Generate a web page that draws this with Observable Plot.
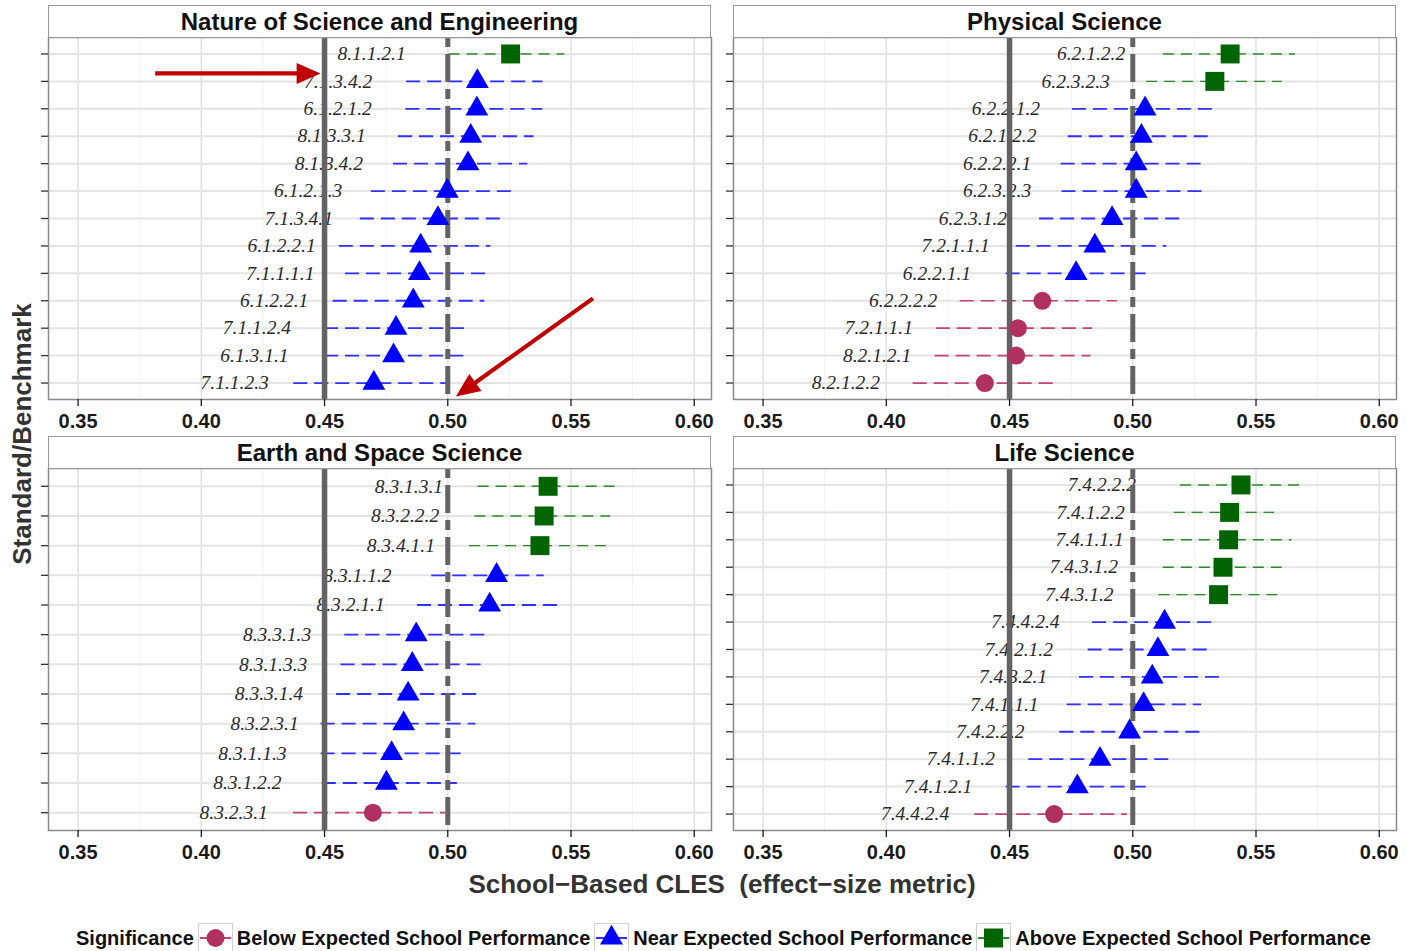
<!DOCTYPE html>
<html>
<head>
<meta charset="utf-8">
<script src="https://cdn.jsdelivr.net/npm/d3@7"></script>
<script src="https://cdn.jsdelivr.net/npm/@observablehq/plot@0.6"></script>
<style>
  body { margin: 0; background: #fff; font-family: "Liberation Sans", Arial, sans-serif; }
  #root { position: relative; width: 1407px; height: 951px; overflow: hidden; background: #fff; }
  .strip { position: absolute; box-sizing: border-box; border: 1.5px solid #9a9a9a; background: #fff;
           text-align: center; font-weight: bold; font-size: 24px; line-height: 32px; color: #111; }
  .plotbox { position: absolute; }
  .xtitle { position: absolute; left: 722px; top: 884px; transform: translate(-50%, -50%);
            font-size: 26px; font-weight: bold; color: #333; white-space: pre; }
  .ytitle { position: absolute; left: 22px; top: 434px; transform: translate(-50%, -50%) rotate(-90deg);
            font-size: 26px; font-weight: bold; color: #333; white-space: nowrap; }
  .legend { position: absolute; left: 76px; top: 923px; height: 30px; display: flex; align-items: center;
            font-size: 20px; font-weight: bold; color: #111; white-space: nowrap; }
  .legend svg { margin-left: 4px; flex: none; }
  .legend span.lab { margin-left: 4px; }
</style>
</head>
<body>
<div id="root"></div>
<script>
// ---------------- data ----------------
const panelTitles = ["Nature of Science and Engineering", "Physical Science", "Earth and Space Science", "Life Science"];

const sigLevels = ["below", "near", "above"];
const sigNames = ["Below Expected School Performance", "Near Expected School Performance", "Above Expected School Performance"];

const xTicks = [0.35, 0.40, 0.45, 0.50, 0.55, 0.60];
const refLines = [0.45, 0.50];

// Nature of Science and Engineering
const nseLabels = ["8.1.1.2.1", "7.1.3.4.2", "6.1.2.1.2", "8.1.3.3.1", "8.1.3.4.2", "6.1.2.1.3", "7.1.3.4.1", "6.1.2.2.1", "7.1.1.1.1", "6.1.2.2.1", "7.1.1.2.4", "6.1.3.1.1", "7.1.1.2.3"];
const nseEst = [0.5255, 0.5120, 0.5118, 0.5093, 0.5082, 0.4998, 0.4960, 0.4890, 0.4885, 0.4860, 0.4790, 0.4780, 0.4700];
const nseLo  = [0.5005, 0.4833, 0.4830, 0.4800, 0.4780, 0.4690, 0.4645, 0.4560, 0.4585, 0.4535, 0.4500, 0.4500, 0.4375];
const nseHi  = [0.5475, 0.5386, 0.5386, 0.5350, 0.5325, 0.5267, 0.5225, 0.5175, 0.5167, 0.5150, 0.5085, 0.5065, 0.5010];
const nseSig = ["above", "near", "near", "near", "near", "near", "near", "near", "near", "near", "near", "near", "near"];

// Physical Science
const psLabels = ["6.2.1.2.2", "6.2.3.2.3", "6.2.2.1.2", "6.2.1.2.2", "6.2.2.2.1", "6.2.3.2.3", "6.2.3.1.2", "7.2.1.1.1", "6.2.2.1.1", "6.2.2.2.2", "7.2.1.1.1", "8.2.1.2.1", "8.2.1.2.2"];
const psEst = [0.5395, 0.5333, 0.5050, 0.5035, 0.5014, 0.5014, 0.4916, 0.4846, 0.4770, 0.4633, 0.4534, 0.4527, 0.4400];
const psLo  = [0.5124, 0.5056, 0.4755, 0.4738, 0.4709, 0.4713, 0.4622, 0.4527, 0.4486, 0.4300, 0.4203, 0.4198, 0.4109];
const psHi  = [0.5660, 0.5607, 0.5327, 0.5306, 0.5292, 0.5292, 0.5203, 0.5138, 0.5062, 0.4938, 0.4837, 0.4831, 0.4690];
const psSig = ["above", "above", "near", "near", "near", "near", "near", "near", "near", "below", "below", "below", "below"];

// Earth and Space Science
const essLabels = ["8.3.1.3.1", "8.3.2.2.2", "8.3.4.1.1", "8.3.1.1.2", "8.3.2.1.1", "8.3.3.1.3", "8.3.1.3.3", "8.3.3.1.4", "8.3.2.3.1", "8.3.1.1.3", "8.3.1.2.2", "8.3.2.3.1"];
const essEst = [0.5407, 0.5391, 0.5374, 0.5198, 0.5170, 0.4872, 0.4856, 0.4839, 0.4821, 0.4772, 0.4751, 0.4696];
const essLo  = [0.5123, 0.5110, 0.5088, 0.4935, 0.4877, 0.4582, 0.4567, 0.4549, 0.4486, 0.4486, 0.4491, 0.4374];
const essHi  = [0.5698, 0.5661, 0.5653, 0.5391, 0.5456, 0.5158, 0.5149, 0.5132, 0.5114, 0.5061, 0.5039, 0.4991];
const essSig = ["above", "above", "above", "near", "near", "near", "near", "near", "near", "near", "near", "below"];

// Life Science
const lsLabels = ["7.4.2.2.2", "7.4.1.2.2", "7.4.1.1.1", "7.4.3.1.2", "7.4.3.1.2", "7.4.4.2.4", "7.4.2.1.2", "7.4.3.2.1", "7.4.1.1.1", "7.4.2.2.2", "7.4.1.1.2", "7.4.1.2.1", "7.4.4.2.4"];
const lsEst = [0.5439, 0.5393, 0.5389, 0.5366, 0.5348, 0.5129, 0.5102, 0.5079, 0.5044, 0.4987, 0.4867, 0.4775, 0.4681];
const lsLo  = [0.5194, 0.5168, 0.5124, 0.5124, 0.5106, 0.4837, 0.4819, 0.4784, 0.4734, 0.4704, 0.4578, 0.4486, 0.4359];
const lsHi  = [0.5685, 0.5575, 0.5646, 0.5616, 0.5598, 0.5324, 0.5310, 0.5359, 0.5279, 0.5279, 0.5166, 0.5062, 0.4978];
const lsSig = ["above", "above", "above", "above", "above", "near", "near", "near", "near", "near", "near", "near", "below"];

// annotation arrows in the first panel (data units: x value, y row index)
const arrowX1 = [0.3815, 0.5591];
const arrowY1 = [1.73, 9.93];
const arrowX2 = [0.4486, 0.5035];
const arrowY2 = [1.73, 13.51];

// ---------------- styles ----------------
const sigColors = ["#b03060", "#0000ff", "#006400"];
const barColors = ["#c3456f", "#3030ff", "#2b892b"];
const sigSymbols = ["circle", "triangle", "square"];
const sigR = [9, 8.5, 10.7];
const barDash = ["14,7", "14,7", "11,7"];
const barWidth = [1.7, 1.8, 1.4];
const xDomain = [0.338, 0.607];
const refColor = "#636363";

const panelW = 663, panelH = 362;
const mL = 12, mR = 4, mT = 2, mB = 40;
const panelPos = [[48, 37], [733, 37], [48, 468], [733, 468]];

function table(labels, est, lo, hi, sig) {
  return labels.map((label, i) => ({row: i + 1, label, est: est[i], lo: lo[i], hi: hi[i], sig: sig[i]}));
}
const panels = [
  table(nseLabels, nseEst, nseLo, nseHi, nseSig),
  table(psLabels, psEst, psLo, psHi, psSig),
  table(essLabels, essEst, essLo, essHi, essSig),
  table(lsLabels, lsEst, lsLo, lsHi, lsSig)
];
const arrows = arrowX1.map((x1, i) => ({x1, y1: arrowY1[i], x2: arrowX2[i], y2: arrowY2[i]}));
const minorTicks = d3.pairs(xTicks).map(([a, b]) => (a + b) / 2);

function arrowMark(list) {
  return (index, scales) => {
    const g = d3.create("svg:g");
    for (const a of list) {
      const x1 = scales.x(a.x1), y1 = scales.y(a.y1), x2 = scales.x(a.x2), y2 = scales.y(a.y2);
      const ang = Math.atan2(y2 - y1, x2 - x1);
      const L = 24, W = 10.5;
      const c = Math.cos(ang), s = Math.sin(ang);
      const bx = x2 - L * c, by = y2 - L * s;
      g.append("line").attr("x1", x1).attr("y1", y1).attr("x2", bx + 2 * c).attr("y2", by + 2 * s)
        .attr("stroke", "#c00000").attr("stroke-width", 4.2);
      g.append("path")
        .attr("d", `M${x2},${y2}L${bx - W * s},${by + W * c}L${bx + W * s},${by - W * c}Z`)
        .attr("fill", "#c00000");
    }
    return g.node();
  };
}

const root = document.getElementById("root");

panels.forEach((rows, p) => {
  const [px, py] = panelPos[p];
  const n = rows.length;
  const rowIdx = rows.map(d => d.row);

  const strip = document.createElement("div");
  strip.className = "strip";
  strip.style.left = px + "px";
  strip.style.top = (py - 32) + "px";
  strip.style.width = panelW + "px";
  strip.style.height = "33px";
  strip.textContent = panelTitles[p];

  const marks = [
    Plot.gridX(minorTicks, {stroke: "#f2f2f2", strokeWidth: 1, strokeOpacity: 1}),
    Plot.gridX(xTicks, {stroke: "#e2e2e2", strokeWidth: 1.6, strokeOpacity: 1}),
    Plot.gridY(rowIdx, {stroke: "#e4e4e4", strokeWidth: 2, strokeOpacity: 1})
  ];
  sigLevels.forEach((s, k) => {
    marks.push(Plot.ruleY(rows.filter(d => d.sig === s), {
      y: "row", x1: "lo", x2: "hi", stroke: barColors[k], strokeWidth: barWidth[k], strokeDasharray: barDash[k]
    }));
  });
  marks.push(Plot.text(rows, {
    x: "est", y: "row", text: "label", dx: -105, textAnchor: "end",
    fontFamily: "Liberation Serif, Times New Roman, serif", fontStyle: "italic", fontSize: 19.5, fill: "#2a2a2a"
  }));
  marks.push(Plot.ruleX([refLines[0]], {stroke: refColor, strokeWidth: 5.5}));
  marks.push(Plot.ruleX([refLines[1]], {stroke: refColor, strokeWidth: 5, strokeDasharray: "10,7,28,7"}));
  sigLevels.forEach((s, k) => {
    marks.push(Plot.dot(rows.filter(d => d.sig === s), {
      x: "est", y: "row", symbol: sigSymbols[k], r: sigR[k], fill: sigColors[k], stroke: "none"
    }));
  });
  if (p === 0) marks.push(arrowMark(arrows));
  marks.push(Plot.frame({stroke: "#8a8a8a", strokeWidth: 1.5}));
  marks.push(Plot.axisX(xTicks, {
    tickSize: 7, tickPadding: 7, tickFormat: d3.format(".2f"), fontSize: 20, fontWeight: "bold",
    color: "#1a1a1a", strokeWidth: 1.3, label: null
  }));
  marks.push(Plot.axisY(rowIdx, {
    tickSize: 7, tickFormat: () => "", color: "#333", strokeWidth: 1.3, label: null
  }));

  const chart = Plot.plot({
    width: panelW + mL + mR,
    height: panelH + mT + mB,
    marginLeft: mL, marginRight: mR, marginTop: mT, marginBottom: mB,
    x: {domain: xDomain},
    y: {domain: [n + 0.6, 0.4]},
    style: {fontFamily: "Liberation Sans, Arial, sans-serif", background: "transparent", overflow: "visible"},
    marks
  });
  const box = document.createElement("div");
  box.className = "plotbox";
  box.style.left = (px - mL) + "px";
  box.style.top = (py - mT) + "px";
  box.appendChild(chart);
  root.appendChild(box);
  root.appendChild(strip);
});

// axis titles
const xt = document.createElement("div");
xt.className = "xtitle";
xt.textContent = "School\u2212Based CLES  (effect\u2212size metric)";
root.appendChild(xt);
const yt = document.createElement("div");
yt.className = "ytitle";
yt.textContent = "Standard/Benchmark";
root.appendChild(yt);

// legend
const legend = document.createElement("div");
legend.className = "legend";
const lt = document.createElement("span");
lt.textContent = "Significance";
legend.appendChild(lt);
sigLevels.forEach((s, k) => {
  const w = 35, h = 30;
  const svg = d3.create("svg").attr("width", w).attr("height", h);
  svg.append("rect").attr("x", 0.5).attr("y", 0.5).attr("width", w - 1).attr("height", h - 1)
    .attr("fill", "#fff").attr("stroke", "#d0d0d0");
  svg.append("line").attr("x1", 2).attr("x2", w - 2).attr("y1", h / 2).attr("y2", h / 2)
    .attr("stroke", barColors[k]).attr("stroke-width", 2);
  const symType = [d3.symbolCircle, d3.symbolTriangle, d3.symbolSquare][k];
  svg.append("path").attr("transform", `translate(${w / 2},${h / 2})`)
    .attr("d", d3.symbol(symType, Math.PI * sigR[k] * sigR[k])())
    .attr("fill", sigColors[k]);
  legend.appendChild(svg.node());
  const lab = document.createElement("span");
  lab.className = "lab";
  lab.textContent = sigNames[k];
  legend.appendChild(lab);
});
root.appendChild(legend);
</script>
</body>
</html>
